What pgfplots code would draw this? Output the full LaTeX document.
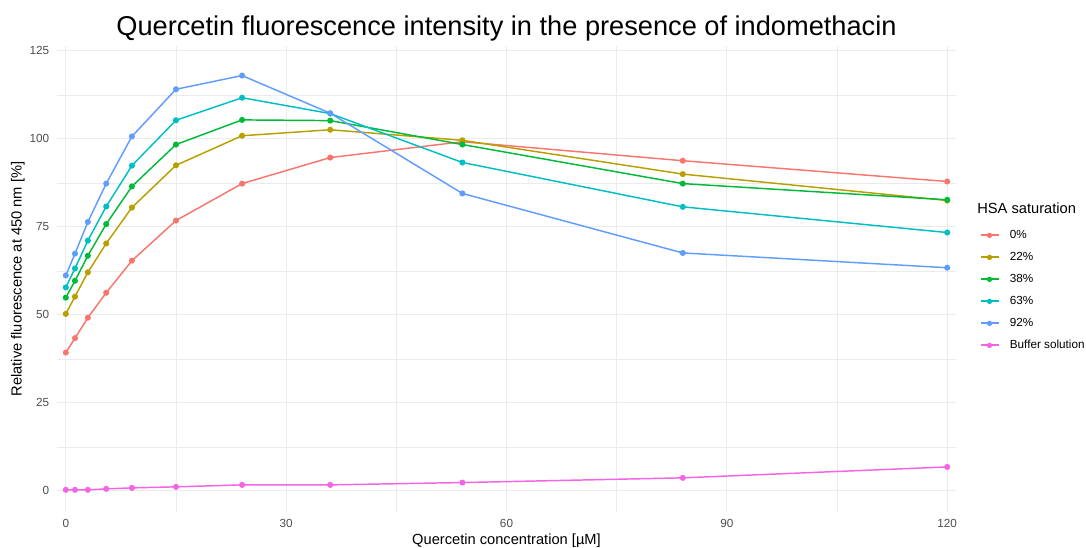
\documentclass[border=0pt]{standalone}
\usepackage{pgfplots}
\pgfplotsset{compat=1.18}
\usepackage{fontspec}
\setmainfont{Liberation Sans}
\definecolor{c0}{HTML}{F8766D}
\definecolor{c22}{HTML}{B79F00}
\definecolor{c38}{HTML}{00BA38}
\definecolor{c63}{HTML}{00BFC4}
\definecolor{c92}{HTML}{619CFF}
\definecolor{cbuf}{HTML}{F564E3}
\definecolor{gridc}{HTML}{EBEBEB}
\definecolor{tickc}{HTML}{4D4D4D}
\begin{document}
\begin{tikzpicture}
\path[use as bounding box] (0pt,0pt) rectangle (814.5pt,411pt);
\begin{axis}[
  at={(42.75pt,27pt)}, anchor=south west,
  scale only axis, width=674.25pt, height=349.5pt,
  xmin=-1.2, xmax=121.2, ymin=-6, ymax=126.4,
  axis line style={draw=none},
  major tick length=0pt, minor tick length=0pt,
  xtick={0,30,60,90,120}, ytick={0,25,50,75,100,125},
  minor xtick={15,45,75,105}, minor ytick={12.5,37.5,62.5,87.5,112.5},
  grid=both,
  major grid style={draw=gridc, line width=0.8pt},
  minor grid style={draw=gridc, line width=0.45pt},
  ticklabel style={font=\fontsize{8.8}{10}\selectfont, text=tickc},
  /pgf/number format/assume math mode=true,
  xticklabel style={yshift=-2.2pt},
  yticklabel style={xshift=-2.4pt},
  xlabel={Quercetin concentration [µM]},
  ylabel={Relative fluorescence at 450 nm [\%]},
  label style={font=\fontsize{11}{13}\selectfont},
  xlabel style={at={(axis description cs:0.5,0)}, anchor=north, inner sep=0pt, yshift=-16pt},
  ylabel style={at={(axis description cs:0,0.5)}, anchor=south, inner sep=0pt, rotate=0, xshift=0pt, yshift=24pt},
  title={Quercetin fluorescence intensity in the presence of indomethacin},
  title style={font=\fontsize{20.4}{24}\selectfont, at={(axis description cs:0.5,1)}, anchor=south, inner sep=0pt, yshift=-2.5pt},
  clip=false,
  every axis plot/.append style={line width=1.1pt, mark=*, mark size=1.7pt, mark options={solid}},
  legend style={draw=none, fill=none, at={(axis description cs:1.027,0.6056)}, anchor=north west,
    font=\fontsize{8.8}{10}\selectfont, inner sep=0pt, row sep=8.5pt,
    /tikz/every odd column/.append style={column sep=8.5pt},
    nodes={inner sep=0pt, anchor=west, text height=6.5pt, text depth=1.5pt}},
  legend cell align=left,
  legend image code/.code={\fill[#1,draw=none] (0pt,-0.8pt) rectangle (13.5pt,0.8pt); \fill[#1,draw=none] (6.75pt,0pt) circle (2pt);},
]
\addplot[c0] coordinates {(0,39.3) (1.25,43.4) (3,49.2) (5.5,56.3) (9,65.4) (15,76.8) (24,87.3) (36,94.7) (54,99.2) (84,93.8) (120,87.9)};
\addlegendentry{0\%}
\addplot[c22] coordinates {(0,50.3) (1.25,55.2) (3,62.1) (5.5,70.3) (9,80.5) (15,92.5) (24,100.9) (36,102.6) (54,99.6) (84,90.0) (120,82.5)};
\addlegendentry{22\%}
\addplot[c38] coordinates {(0,54.9) (1.25,59.7) (3,66.8) (5.5,75.8) (9,86.5) (15,98.4) (24,105.4) (36,105.2) (54,98.4) (84,87.3) (120,82.7)};
\addlegendentry{38\%}
\addplot[c63] coordinates {(0,57.8) (1.25,63.2) (3,71.1) (5.5,80.8) (9,92.4) (15,105.3) (24,111.7) (36,107.2) (54,93.3) (84,80.7) (120,73.4)};
\addlegendentry{63\%}
\addplot[c92] coordinates {(0,61.2) (1.25,67.4) (3,76.4) (5.5,87.3) (9,100.7) (15,114.1) (24,118.0) (36,107.3) (54,84.5) (84,67.6) (120,63.4)};
\addlegendentry{92\%}
\addplot[cbuf] coordinates {(0,0.3) (1.25,0.3) (3,0.3) (5.5,0.57) (9,0.85) (15,1.14) (24,1.7) (36,1.7) (54,2.36) (84,3.7) (120,6.8)};
\addlegendentry{Buffer solution}
\node[anchor=west, inner sep=0pt, font=\fontsize{11}{13}\selectfont] at (axis description cs:1.0234,0.6524) {HSA saturation};
\end{axis}
\end{tikzpicture}
\end{document}
